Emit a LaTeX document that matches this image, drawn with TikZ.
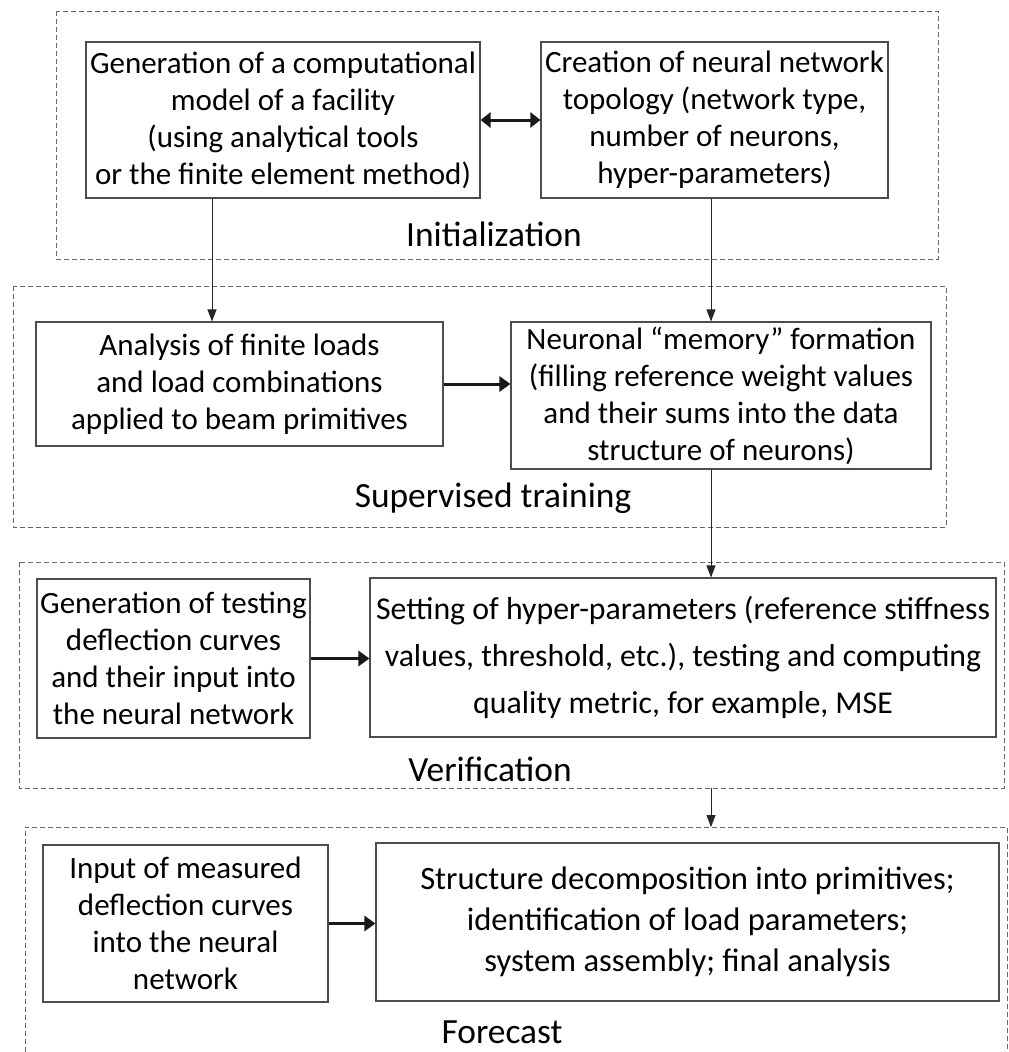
\documentclass[tikz,border=0pt]{standalone}
\usepackage{fontspec}
\setmainfont{Carlito}
\usetikzlibrary{arrows.meta}
\begin{document}
\begin{tikzpicture}[x=1pt,y=-1pt,
  box/.style={draw=black!70, line width=1.1pt, align=center, inner sep=0pt, font=\fontsize{31}{37}\selectfont},
  bigbox/.style={box, font=\fontsize{31.8}{47}\selectfont},
  group/.style={draw=black!60, dash pattern=on 5pt off 3pt, line width=0.9pt},
  grouplabel/.style={font=\fontsize{35.4}{40}\selectfont, inner sep=0pt},
  thin arrow/.style={draw=black!85, line width=0.9pt, -{Triangle[length=12pt,width=9pt]}},
  thick arrow/.style={draw=black!90, line width=3pt, -{Triangle[length=11pt,width=15pt]}},
  double arrow/.style={draw=black!90, line width=3pt, {Triangle[length=10pt,width=15pt]}-{Triangle[length=10pt,width=15pt]}}]
\useasboundingbox (0,0) rectangle (1009,1052);
\fill[white] (0,0) rectangle (1009,1052);

% group frames
\draw[group] (56,11) rectangle (938,259);
\draw[group] (13,286) rectangle (946,527);
\draw[group] (19,562) rectangle (1004,788);
\draw[group] (25,1052) -- (25,827) -- (1007,827) -- (1007,1052);
\coordinate (verbot) at (711,788);
\coordinate (fortop) at (711,827);

% boxes
\node[box, minimum width=394pt, minimum height=156pt] (A) at (283,120)
  {Generation of a computational\\model of a facility\\(using analytical tools\\or the finite element method)};
\node[box, minimum width=347pt, minimum height=156pt] (B) at (714.5,120)
  {Creation of neural network\\topology (network type,\\number of neurons,\\hyper-parameters)};
\node[box, minimum width=407pt, minimum height=124pt] (C) at (239.5,384)
  {Analysis of finite loads\\and load combinations\\applied to beam primitives};
\node[box, minimum width=420pt, minimum height=147pt] (D) at (721,395.5)
  {Neuronal “memory” formation\\(filling reference weight values\\and their sums into the data\\structure of neurons)};
\node[box, minimum width=273pt, minimum height=159pt] (F) at (173.5,658.5)
  {Generation of testing\\deflection curves\\and their input into\\the neural network};
\node[bigbox, minimum width=626pt, minimum height=159pt] (E) at (683,657.5)
  {Setting of hyper-parameters (reference stiffness\\values, threshold, etc.), testing and computing\\quality metric, for example, MSE};
\node[box, minimum width=285pt, minimum height=157pt] (G) at (185.5,923.5)
  {Input of measured\\deflection curves\\into the neural\\network};
\node[bigbox, minimum width=623pt, minimum height=158pt, font=\fontsize{32.6}{41}\selectfont] (H) at (687.5,922)
  {Structure decomposition into primitives;\\identification of load parameters;\\system assembly; final analysis};

% group labels
\node[grouplabel] (linit) at (494,234) {Initialization};
\node[grouplabel] (lsup) at (493,498) {Supervised training};
\node[grouplabel] (lver) at (490,769) {Verification};
\node[grouplabel, anchor=base] (lfor) at (502,1043) {Forecast};

% connectors
\draw[double arrow] (A.east) -- (B.west);
\draw[thin arrow] (A.south -| 212,0) -- (C.north -| 212,0);
\draw[thin arrow] (B.south -| 711,0) -- (D.north -| 711,0);
\draw[thick arrow] (C.east) -- (D.west |- C.east);
\draw[thin arrow] (D.south -| 711,0) -- (E.north -| 711,0);
\draw[thick arrow] (F.east) -- (E.west |- F.east);
\draw[thin arrow] (verbot) -- (fortop);
\draw[thick arrow] (G.east) -- (H.west |- G.east);
\end{tikzpicture}
\end{document}
